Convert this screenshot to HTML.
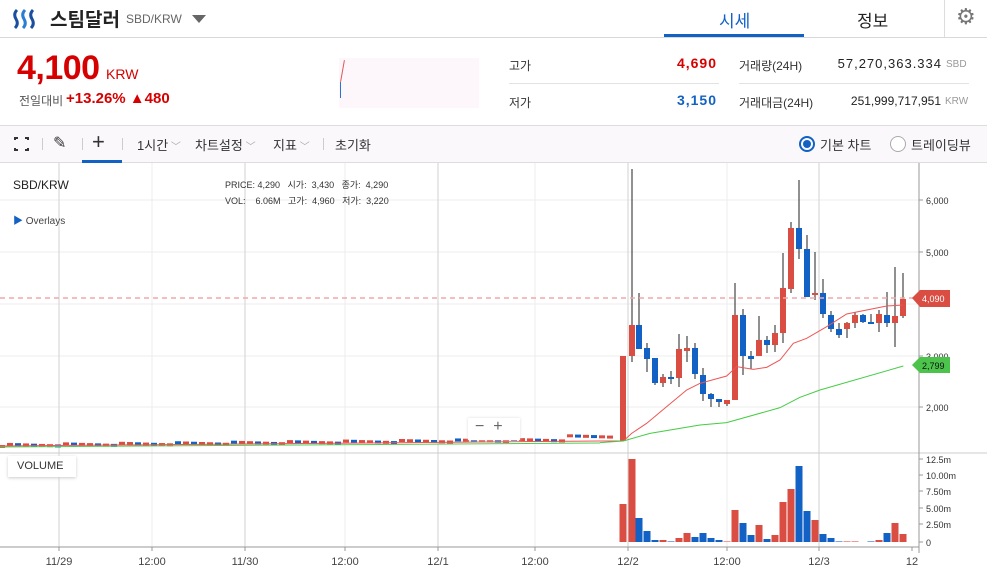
<!DOCTYPE html>
<html><head><meta charset="utf-8"><style>
*{margin:0;padding:0;box-sizing:border-box}
body{width:987px;height:577px;overflow:hidden;background:#fff;font-family:"Liberation Sans","Noto Sans CJK KR",sans-serif;color:#222;position:relative}
.a{position:absolute;white-space:nowrap}
</style></head><body>
<svg class="a" style="left:12px;top:8px" width="28" height="22" viewBox="0 0 28 22">
<path d="M5 2 Q1 6 4 11 Q7 16 3 20" stroke="#1a4fa0" stroke-width="3" fill="none"/>
<path d="M13 2 Q9 6 12 11 Q15 16 11 20" stroke="#2a7fd4" stroke-width="3" fill="none"/>
<path d="M21 2 Q17 6 20 11 Q23 16 19 20" stroke="#1a4fa0" stroke-width="3" fill="none"/>
</svg>
<div class="a" style="left:50px;top:5px;font-size:19px;font-weight:bold;color:#222">스팀달러</div>
<div class="a" style="left:126px;top:12px;font-size:12px;color:#666">SBD/KRW</div>
<div class="a" style="left:192px;top:15px;width:0;height:0;border-left:7px solid transparent;border-right:7px solid transparent;border-top:8px solid #666"></div>
<div class="a" style="left:719px;top:7px;font-size:17px;color:#1261c4">시세</div>
<div class="a" style="left:664px;top:34px;width:140px;height:3px;background:#1261c4"></div>
<div class="a" style="left:857px;top:7px;font-size:17px;color:#222">정보</div>
<div class="a" style="left:944px;top:0;width:1px;height:37px;background:#ddd"></div>
<div class="a" style="left:956px;top:4px;font-size:22px;color:#777">⚙</div>
<div class="a" style="left:0;top:37px;width:987px;height:1px;background:#d8d8d8"></div>
<div class="a" style="left:17px;top:49px;font-size:34px;font-weight:bold;color:#d60000;letter-spacing:-0.5px">4,100</div>
<div class="a" style="left:106px;top:66px;font-size:14px;color:#d60000">KRW</div>
<div class="a" style="left:19px;top:92px;font-size:12px;color:#555">전일대비</div>
<div class="a" style="left:66px;top:90px;font-size:15px;font-weight:bold;color:#d60000">+13.26% ▲480</div>
<div class="a" style="left:339px;top:58px;width:140px;height:50px;background:#fdf7fb"></div>
<div class="a" style="left:342px;top:60px;width:1px;height:22px;background:#d55;transform:rotate(10deg)"></div>
<div class="a" style="left:340px;top:82px;width:1px;height:16px;background:#2b74d4"></div>
<div class="a" style="left:509px;top:57px;font-size:12px;color:#333">고가</div>
<div class="a" style="left:640px;top:55px;width:77px;text-align:right;font-size:14px;font-weight:bold;color:#d60000;letter-spacing:1px">4,690</div>
<div class="a" style="left:509px;top:83px;width:210px;height:1px;background:#e2e2e2"></div>
<div class="a" style="left:509px;top:94px;font-size:12px;color:#333">저가</div>
<div class="a" style="left:640px;top:92px;width:77px;text-align:right;font-size:14px;font-weight:bold;color:#1261c4;letter-spacing:1px">3,150</div>
<div class="a" style="left:739px;top:57px;font-size:12px;color:#333">거래량(24H)</div>
<div class="a" style="left:800px;top:56px;width:142px;text-align:right;font-size:13px;color:#222;letter-spacing:1px">57,270,363.334</div>
<div class="a" style="left:946px;top:59px;font-size:10px;color:#999">SBD</div>
<div class="a" style="left:739px;top:83px;width:230px;height:1px;background:#e2e2e2"></div>
<div class="a" style="left:739px;top:94px;font-size:12px;color:#333">거래대금(24H)</div>
<div class="a" style="left:820px;top:94px;width:121px;text-align:right;font-size:12px;color:#222">251,999,717,951</div>
<div class="a" style="left:945px;top:96px;font-size:10px;color:#999">KRW</div>
<div class="a" style="left:0;top:125px;width:987px;height:38px;background:#fbf8fc;border-top:1px solid #ddd;border-bottom:1px solid #ddd"></div>
<div class="a" style="left:14px;top:137px;width:15px;height:14px;border:2px solid #333"></div>
<div class="a" style="left:18px;top:135px;width:7px;height:18px;background:#fbf8fc"></div>
<div class="a" style="left:12px;top:140px;width:19px;height:8px;background:#fbf8fc"></div>
<div class="a" style="left:42px;top:138px;width:1px;height:12px;background:#ccc"></div>
<div class="a" style="left:53px;top:133px;font-size:16px;color:#333">✎</div>
<div class="a" style="left:82px;top:138px;width:1px;height:12px;background:#ccc"></div>
<div class="a" style="left:92px;top:129px;font-size:22px;color:#333">+</div>
<div class="a" style="left:82px;top:160px;width:40px;height:3px;background:#1261c4"></div>
<div class="a" style="left:122px;top:138px;width:1px;height:12px;background:#ccc"></div>
<div class="a" style="left:137px;top:135px;font-size:13px;color:#333">1시간<span style="color:#aaa;font-size:10px"> ﹀</span></div>
<div class="a" style="left:195px;top:135px;font-size:13px;color:#333">차트설정<span style="color:#aaa;font-size:10px"> ﹀</span></div>
<div class="a" style="left:273px;top:135px;font-size:13px;color:#333">지표<span style="color:#aaa;font-size:10px"> ﹀</span></div>
<div class="a" style="left:323px;top:138px;width:1px;height:12px;background:#ccc"></div>
<div class="a" style="left:335px;top:135px;font-size:13px;color:#333">초기화</div>
<div class="a" style="left:799px;top:136px;width:16px;height:16px;border-radius:50%;border:2px solid #1261c4"></div>
<div class="a" style="left:803px;top:140px;width:8px;height:8px;border-radius:50%;background:#1261c4"></div>
<div class="a" style="left:820px;top:135px;font-size:13px;color:#333">기본 차트</div>
<div class="a" style="left:890px;top:136px;width:16px;height:16px;border-radius:50%;border:1px solid #aaa;background:#fff"></div>
<div class="a" style="left:911px;top:135px;font-size:13px;color:#333">트레이딩뷰</div>
<svg class="a" id="ch" style="left:0;top:0" width="987" height="577" font-family="Liberation Sans, sans-serif"></svg>
<div class="a" style="left:13px;top:178px;font-size:12px;color:#222">SBD/KRW</div>
<div class="a" style="left:13px;top:212px;font-size:10px;color:#444"><span style="color:#1261c4">▶</span> Overlays</div>
<div class="a" style="left:225px;top:177px;font-size:9px;color:#333;line-height:16px">PRICE: 4,290 &nbsp; 시가: &nbsp;3,430 &nbsp; 종가: &nbsp;4,290<br>VOL: &nbsp;&nbsp;&nbsp;6.06M &nbsp;&nbsp;고가: &nbsp;4,960 &nbsp; 저가: &nbsp;3,220</div>
<div class="a" style="left:468px;top:418px;width:52px;height:22px;background:#fff;box-shadow:0 0 3px #ddd;font-size:16px;color:#666;padding-left:7px">− &nbsp;+</div>
<div class="a" style="left:8px;top:456px;width:68px;height:21px;background:#fff;box-shadow:0 1px 3px #ccc;font-size:11px;color:#333;padding:4px 0 0 9px">VOLUME</div>
<script>
var s='';
function L(x1,y1,x2,y2,c,w,d){s+='<line x1="'+x1+'" y1="'+y1+'" x2="'+x2+'" y2="'+y2+'" stroke="'+c+'" stroke-width="'+(w||1)+'"'+(d?' stroke-dasharray="'+d+'"':'')+'/>';}
function R(x,y,w,h,c){s+='<rect x="'+x+'" y="'+y+'" width="'+w+'" height="'+h+'" fill="'+c+'"/>';}
function T(x,y,t,c,a,f){s+='<text x="'+x+'" y="'+y+'" fill="'+(c||'#333')+'" font-size="'+(f||10)+'" text-anchor="'+(a||'start')+'">'+t+'</text>';}
[200,252,304,356,407].forEach(function(y){L(0,y,919,y,'#ececec');});
[152,345,535,727].forEach(function(x){L(x,163,x,547,'#ececec');});
[59,245,438,628,819].forEach(function(x){L(x,163,x,547,'#d2d2d2');});
L(0,453,987,453,'#ccc');L(0,547,919,547,'#999');L(919,163,919,553,'#999');
var R1='#d94d42',B1='#1261c4';
for(var i=0;i<77;i++){var x=2+i*8;var up=((i*7)%5)<3;var y=445-i*0.08-((i*13)%7)/3;if(i>70)y-=3;R(x-3,y,6,3,up?R1:B1);}
var C=[[623,356,441,356,441,1],[632,325,356,169,362,1],[639,325,349,293,349,0],[647,348,359,343,372,0],[655,358,383,358,385,0],[663,377,383,374,387,1],[671,377,379,371,384,0],[679,349,378,334,387,1],[687,348,351,336,362,1],[695,348,374,343,379,0],[703,375,394,368,401,0],[711,394,399,393,407,0],[719,399,402,399,407,0],[727,400,404,400,406,1],[735,315,400,283,400,1],[743,315,356,309,375,0],[751,356,359,351,369,0],[759,340,356,316,356,1],[767,340,345,336,353,0],[775,333,345,325,352,1],[783,288,333,253,343,1],[791,228,289,222,293,1],[799,228,249,180,259,0],[807,249,297,235,297,0],[815,293,295,252,300,1],[823,293,314,279,318,0],[831,315,329,311,332,0],[839,329,335,323,338,0],[847,323,329,322,338,1],[855,315,323,312,328,1],[863,315,322,314,323,0],[871,322,324,314,324,0],[879,314,323,310,332,1],[887,315,323,292,327,0],[895,316,323,267,347,1],[903,299,316,273,318,1]];
C.forEach(function(c){L(c[0],c[3],c[0],c[4],'#222');R(c[0]-3,c[1],6,Math.max(c[2]-c[1],2),c[5]?R1:B1);});
function P(pts,col){var d='';pts.forEach(function(p,i){d+=(i?'L':'M')+(600+p[0]/3)+' '+(160+p[1]/3);});s+='<path d="'+d+'" stroke="'+col+'" fill="none" stroke-width="1"/>';}
s+='<path d="M0 446 L600 441" stroke="#e55" fill="none"/><path d="M0 447 L600 443" stroke="#5c5" fill="none"/>';
P([[0,843],[70,843],[95,820],[140,790],[200,740],[260,690],[300,670],[380,648],[410,620],[460,628],[500,622],[540,600],[580,550],[620,535],[680,500],[740,462],[800,450],[860,438],[910,435]],'#e55');
P([[0,848],[70,843],[150,820],[300,795],[380,788],[540,743],[600,712],[660,690],[910,618]],'#4c4');
L(0,298,919,298,'#f2a8a8',1.5,'5,4');
var V=[[623,504,1],[632,459,1],[639,518,0],[647,531,0],[655,540,0],[663,540,1],[671,541,2],[679,538,1],[687,533,1],[695,537,0],[703,533,0],[711,538,0],[719,540,0],[727,541,3],[735,510,1],[743,523,0],[751,535,0],[759,525,1],[767,539,0],[775,535,1],[783,502,1],[791,489,1],[799,466,0],[807,511,0],[815,520,1],[823,534,0],[831,538,0],[839,541,2],[847,541,3],[855,541,3],[871,541,2],[879,540,1],[887,533,0],[895,523,1],[903,534,1]];
V.forEach(function(v){var c=v[2]==1?R1:v[2]==0?B1:v[2]==2?'#7aa8e8':'#f09a9a';R(v[0]-3.5,v[1],7,542-v[1],c);});
[[200,'6,000'],[252,'5,000'],[356,'3,000'],[407,'2,000']].forEach(function(a){L(919,a[0],923,a[0],'#999');T(926,a[0]+4,a[1],'#333','start',9);});
[[459,'12.5m'],[475,'10.00m'],[491,'7.50m'],[508,'5.00m'],[524,'2.50m'],[542,'0']].forEach(function(a){L(919,a[0],923,a[0],'#999');T(926,a[0]+4,a[1],'#333','start',9);});
s+='<path d="M912 298 L920 290 L950 290 L950 307 L920 307 Z" fill="#d94d42"/>';T(922,302,'4,090','#fff','start',9);
s+='<path d="M912 365 L920 357 L950 357 L950 373 L920 373 Z" fill="#4cc44c"/>';T(922,369,'2,799','#111','start',9);
[[59,'11/29'],[152,'12:00'],[245,'11/30'],[345,'12:00'],[438,'12/1'],[535,'12:00'],[628,'12/2'],[727,'12:00'],[819,'12/3'],[912,'12']].forEach(function(a){L(a[0],547,a[0],551,'#999');T(a[0],565,a[1],'#444','middle',11);});
document.getElementById('ch').innerHTML=s;
</script>
</body></html>
